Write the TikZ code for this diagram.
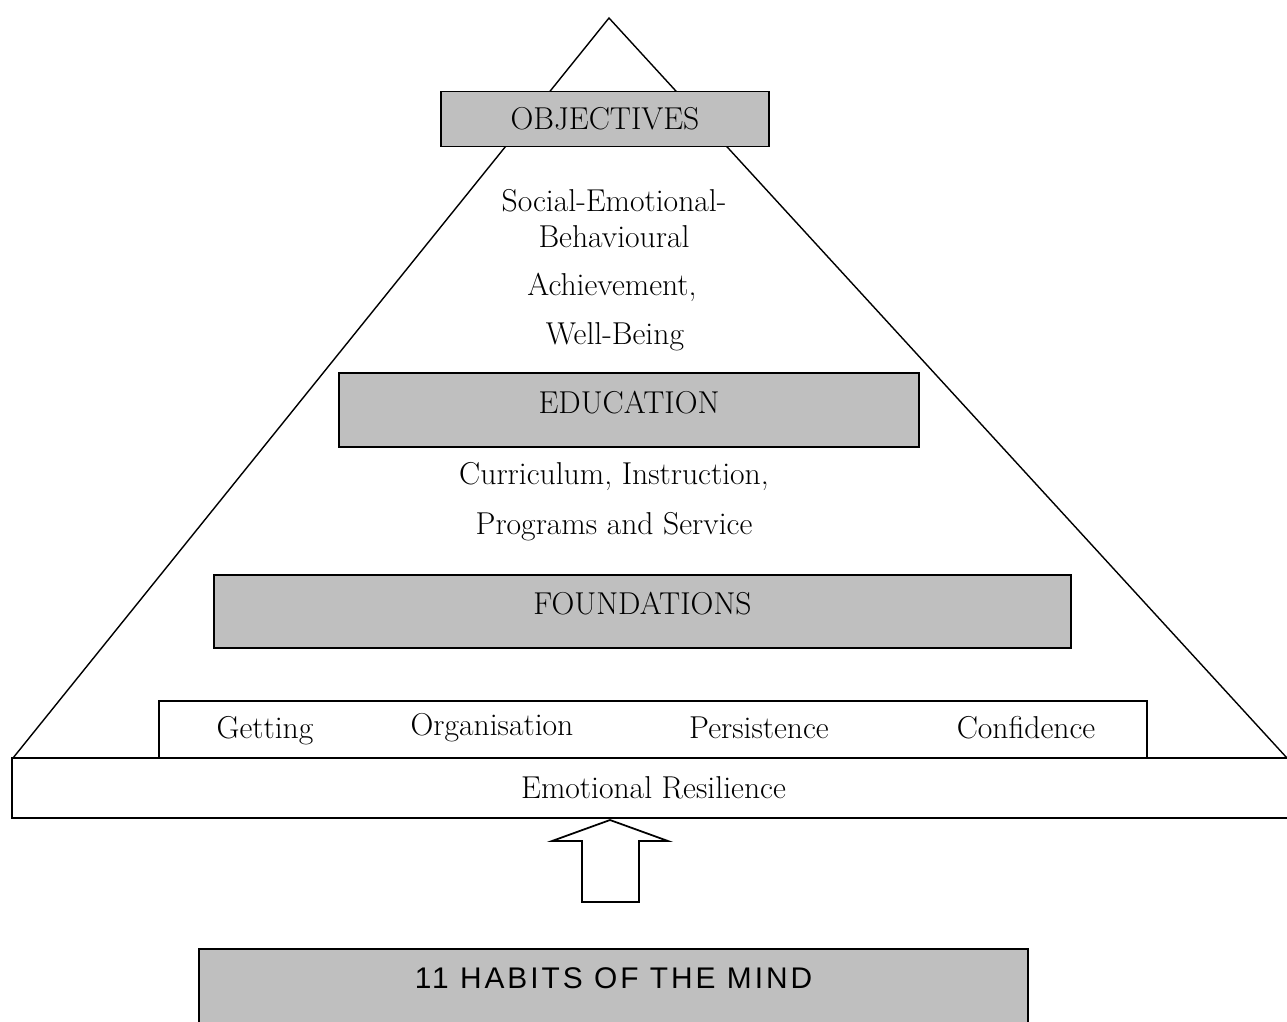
\documentclass[tikz,border=0pt]{standalone}
\usepackage{fontspec}
\newfontfamily\habitfont[LetterSpace=10]{Liberation Sans}
\usetikzlibrary{positioning}
\definecolor{boxgray}{RGB}{191,191,191}

\begin{document}
\begin{tikzpicture}[x=0.2mm,y=-0.2mm, line width=0.8pt,
  words/.style={font=\fontsize{18}{21}\selectfont, inner sep=0pt},
  graybox/.style={words, draw, line width=1pt, fill=boxgray},
  whitebox/.style={words, draw, line width=1pt, fill=white}]
\useasboundingbox (0,0) rectangle (1287,1021);

% pyramid
\coordinate (apex) at (609,18);
\coordinate (baseL) at (13,758);
\coordinate (baseR) at (1287,758);
\draw (baseL) -- (apex) -- (baseR);

\node[graybox, minimum width=328*0.2mm, minimum height=55*0.2mm] (obj) at (605,119) {OBJECTIVES};
\node[words] (soc) at (614,201) {Social-Emotional-};
\node[words] (beh) at (614,237) {Behavioural};
\node[words] (ach) at (612,287) {Achievement,};
\node[words] (well) at (615,337) {Well-Being};

\node[graybox, minimum width=580*0.2mm, minimum height=74*0.2mm, text depth=9pt] (edu) at (629,410) {EDUCATION};
\node[words] (cur) at (614,477) {Curriculum, Instruction,};
\node[words] (prog) at (614,527) {Programs and Service};

\node[graybox, minimum width=857*0.2mm, minimum height=73*0.2mm, text depth=9pt] (fnd) at (642.5,611.5) {FOUNDATIONS};

% habits row and base
\node[whitebox, minimum width=988*0.2mm, minimum height=57*0.2mm] (row) at (653,729.5) {};
\node[words] (get) at (265,731) {Getting};
\node[words] (org) at (492,728) {Organisation};
\node[words] (per) at (759,728) {Persistence};
\node[words] (con) at (1026,728) {Confidence};
\node[whitebox, minimum width=1283*0.2mm, minimum height=60*0.2mm] (res) at (653.5,788) {Emotional Resilience};

% block arrow
\coordinate (tip) at (610,820);
\draw[line width=1pt, fill=white] (tip) -- (668,841) -- (639,841) -- (639,902)
  -- (582,902) -- (582,841) -- (552,841) -- cycle;

\node[graybox, font=\habitfont\fontsize{17}{20}\selectfont, minimum width=829*0.2mm,
  minimum height=82*0.2mm, text depth=14pt] (habits) at (613.5,990) {11 HABITS OF THE MIND};
\end{tikzpicture}
\end{document}
